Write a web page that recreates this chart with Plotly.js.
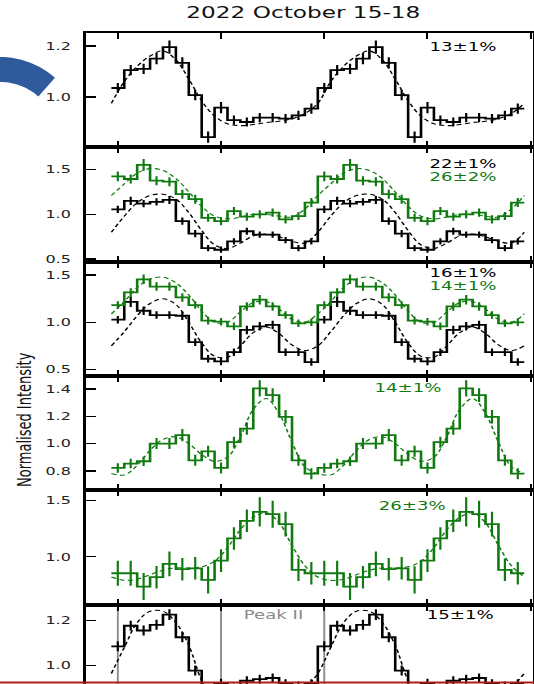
<!DOCTYPE html>
<html>
<head>
<meta charset="utf-8">
<script src="https://cdn.plot.ly/plotly-3.0.1.min.js"></script>
<style>
  html, body { margin: 0; padding: 0; overflow: hidden; background: #fff; width: 534px; height: 684px; }
  #chart { width: 368px; height: 724px; transform: scaleX(1.4511); transform-origin: 0 0; }
</style>
</head>
<body>
<div id="chart"></div>
<script>
// Phase-folded light curves, one rotation per array (shown twice).
const phaseBins = [0, 0.0625, 0.125, 0.1875, 0.25, 0.3125, 0.375, 0.4375,
                   0.5, 0.5625, 0.625, 0.6875, 0.75, 0.8125, 0.875, 0.9375];
const fitPhases = [-0.03125, 0.03125, 0.09375, 0.15625, 0.21875, 0.28125, 0.34375, 0.40625,
                   0.46875, 0.53125, 0.59375, 0.65625, 0.71875, 0.78125, 0.84375, 0.90625];
const xTicks = [0, 0.5, 1, 1.5, 2];

// Panel 1
const p1Black    = [1.035, 1.105, 1.11, 1.15, 1.195, 1.133, 1.007, 0.843, 0.958, 0.909, 0.902, 0.919, 0.919, 0.915, 0.928, 0.954];
const p1BlackErr = [0.02, 0.02, 0.02, 0.022, 0.026, 0.022, 0.02, 0.022, 0.022, 0.018, 0.018, 0.018, 0.018, 0.018, 0.018, 0.02];
const p1BlackFit = [0.975, 1.06, 1.12, 1.16, 1.18, 1.145, 1.07, 0.985, 0.925, 0.895, 0.888, 0.892, 0.90, 0.905, 0.915, 0.935];
// Panel 2
const p2Black    = [1.056, 1.15, 1.12, 1.139, 1.161, 0.924, 0.786, 0.624, 0.606, 0.70, 0.812, 0.775, 0.775, 0.712, 0.624, 0.70];
const p2BlackErr = [0.04, 0.045, 0.04, 0.04, 0.045, 0.04, 0.04, 0.035, 0.035, 0.035, 0.04, 0.035, 0.035, 0.035, 0.035, 0.035];
const p2BlackFit = [0.80, 0.98, 1.13, 1.21, 1.225, 1.17, 1.02, 0.82, 0.66, 0.62, 0.68, 0.76, 0.78, 0.75, 0.70, 0.68];
const p2Green    = [1.424, 1.394, 1.552, 1.375, 1.364, 1.225, 1.169, 0.962, 0.924, 1.037, 0.974, 1.0, 1.019, 0.944, 0.981, 1.131];
const p2GreenErr = [0.055, 0.05, 0.065, 0.05, 0.05, 0.05, 0.05, 0.045, 0.045, 0.045, 0.045, 0.045, 0.045, 0.045, 0.045, 0.05];
const p2GreenFit = [1.21, 1.34, 1.46, 1.51, 1.49, 1.40, 1.25, 1.09, 0.98, 0.95, 0.97, 1.00, 1.00, 0.98, 0.97, 1.06];
// Panel 3
const p3Black    = [1.028, 1.218, 1.123, 1.077, 1.077, 1.07, 0.789, 0.613, 0.585, 0.683, 0.919, 0.958, 0.972, 0.683, 0.683, 0.578];
const p3BlackErr = [0.04, 0.055, 0.045, 0.04, 0.04, 0.045, 0.04, 0.04, 0.04, 0.04, 0.045, 0.045, 0.045, 0.04, 0.04, 0.04];
const p3BlackFit = [0.75, 0.90, 1.07, 1.20, 1.25, 1.19, 1.00, 0.78, 0.64, 0.63, 0.75, 0.89, 0.95, 0.88, 0.76, 0.70];
const p3Green    = [1.183, 1.317, 1.457, 1.38, 1.38, 1.264, 1.183, 1.018, 1.007, 0.958, 1.169, 1.24, 1.169, 1.077, 0.989, 1.0];
const p3GreenErr = [0.04, 0.045, 0.05, 0.045, 0.045, 0.045, 0.04, 0.04, 0.04, 0.04, 0.045, 0.05, 0.045, 0.04, 0.04, 0.04];
const p3GreenFit = [1.09, 1.22, 1.37, 1.46, 1.48, 1.42, 1.29, 1.12, 1.00, 1.00, 1.11, 1.21, 1.22, 1.14, 1.03, 1.00];
// Panel 4
const p4Green    = [0.821, 0.853, 0.870, 1.0, 1.0, 1.061, 0.877, 0.943, 0.821, 1.01, 1.11, 1.404, 1.355, 1.196, 0.877, 0.779];
const p4GreenErr = [0.035, 0.035, 0.035, 0.04, 0.04, 0.045, 0.04, 0.04, 0.04, 0.04, 0.045, 0.06, 0.05, 0.05, 0.04, 0.04];
const p4GreenFit = [0.78, 0.77, 0.84, 0.95, 1.03, 1.05, 1.00, 0.92, 0.87, 0.90, 1.05, 1.25, 1.33, 1.22, 1.01, 0.83];
// Panel 5
const p5Green    = [0.853, 0.853, 0.735, 0.818, 0.936, 0.889, 0.897, 0.794, 0.965, 1.162, 1.318, 1.397, 1.377, 1.289, 0.883, 0.853];
const p5GreenErr = [0.11, 0.11, 0.12, 0.10, 0.11, 0.10, 0.10, 0.12, 0.10, 0.10, 0.10, 0.13, 0.12, 0.11, 0.10, 0.10];
const p5GreenFit = [0.82, 0.79, 0.80, 0.84, 0.88, 0.90, 0.90, 0.91, 0.96, 1.08, 1.24, 1.35, 1.39, 1.30, 1.10, 0.92];
// Panel 6
const p6Black    = [1.085, 1.176, 1.155, 1.18, 1.225, 1.125, 0.978, 0.86, 0.92, 0.90, 0.933, 0.94, 0.945, 0.92, 0.91, 0.92];
const p6BlackErr = [0.022, 0.022, 0.022, 0.022, 0.024, 0.022, 0.022, 0.022, 0.022, 0.02, 0.02, 0.02, 0.02, 0.02, 0.02, 0.02];
const p6BlackFit = [0.965, 1.08, 1.19, 1.24, 1.24, 1.19, 1.09, 0.935, 0.85, 0.83, 0.84, 0.86, 0.87, 0.86, 0.85, 0.90];
const peakLines  = [0, 0.5, 1.0];

const BLACK = '#000000';
const GREEN = '#107a10';
const FONT = 'DejaVu Sans, Verdana, sans-serif';

// Figure geometry (unstretched CSS px; the container is stretched horizontally)
const S = 1.4511, W0 = 368, H = 724;
const ML = 59, MR = 1.4, MT = 33, MB = 4.6;
const PW = W0 - ML - MR, PH = H - MT - MB;
const toPaper = (X, Y) => [(X / S - ML) / PW, 1 - (Y - MT) / PH];

const cycles = [0, 1];
const twoCycles = ph => cycles.flatMap(c => ph.map(p => p + c));
const repeat = v => cycles.flatMap(() => v);

const traces = [];
function addSeries(panel, vals, errs, fit, color) {
  const xa = panel === 1 ? 'x' : 'x' + panel;
  const ya = panel === 1 ? 'y' : 'y' + panel;
  const centers = twoCycles(phaseBins);
  const yv = repeat(vals);
  const w = phaseBins[1] - phaseBins[0];
  const edges = centers.map(c => c - w / 2).concat([centers[centers.length - 1] + w / 2]);
  traces.push({
    x: edges, y: yv.concat([yv[yv.length - 1]]), xaxis: xa, yaxis: ya,
    type: 'scatter', mode: 'lines', line: {shape: 'hv', color: color, width: 1.8},
    hoverinfo: 'skip', showlegend: false
  });
  traces.push({
    x: centers, y: yv, xaxis: xa, yaxis: ya, type: 'scatter', mode: 'markers',
    marker: {size: 1, color: 'rgba(0,0,0,0)'},
    error_y: {type: 'data', array: repeat(errs), visible: true, width: 0, thickness: 1.5, color: color},
    hoverinfo: 'skip', showlegend: false
  });
  const fx = twoCycles(fitPhases).concat([fitPhases[0] + 2]);
  const fy = repeat(fit).concat([fit[0]]);
  traces.push({
    x: fx, y: fy, xaxis: xa, yaxis: ya, type: 'scatter', mode: 'lines',
    line: {shape: 'spline', smoothing: 1, color: color, width: 1.1, dash: '3.5px,2.5px'},
    hoverinfo: 'skip', showlegend: false
  });
}

addSeries(1, p1Black, p1BlackErr, p1BlackFit, BLACK);
addSeries(2, p2Black, p2BlackErr, p2BlackFit, BLACK);
addSeries(2, p2Green, p2GreenErr, p2GreenFit, GREEN);
addSeries(3, p3Black, p3BlackErr, p3BlackFit, BLACK);
addSeries(3, p3Green, p3GreenErr, p3GreenFit, GREEN);
addSeries(4, p4Green, p4GreenErr, p4GreenFit, GREEN);
addSeries(5, p5Green, p5GreenErr, p5GreenFit, GREEN);
addSeries(6, p6Black, p6BlackErr, p6BlackFit, BLACK);

const yRanges = [[0.803, 1.25], [0.473, 1.747], [0.43, 1.644], [0.657, 1.495], [0.574, 1.589], [0.764, 1.269]];
const yTicks = [[1.0, 1.2], [0.5, 1.0, 1.5], [0.5, 1.0, 1.5], [0.8, 1.0, 1.2, 1.4], [1.0, 1.5], [1.0, 1.2]];

const layout = {
  width: W0, height: H,
  margin: {l: ML, r: MR, t: MT, b: MB, pad: 0},
  paper_bgcolor: '#fff', plot_bgcolor: '#fff',
  showlegend: false,
  font: {family: FONT, color: '#111'},
  title: {
    text: '2022 October 15-18', font: {family: FONT, size: 16, color: '#111'},
    xref: 'container', yref: 'container', x: 209 / W0, y: 1 - 12 / H,
    xanchor: 'center', yanchor: 'middle'
  },
  annotations: [],
  shapes: []
};

for (let k = 1; k <= 6; k++) {
  const sx = k === 1 ? '' : String(k);
  layout['xaxis' + sx] = {
    domain: [0, 1], anchor: 'y' + sx, range: [-0.156, 2.009],
    matches: k === 1 ? undefined : 'x',
    tickmode: 'array', tickvals: xTicks, showticklabels: false,
    ticks: 'inside', ticklen: 6, tickwidth: 1.4, tickcolor: BLACK,
    showline: true, linecolor: BLACK, linewidth: 2, mirror: 'ticks',
    showgrid: false, zeroline: false
  };
  layout['yaxis' + sx] = {
    domain: [1 - k / 6, 1 - (k - 1) / 6], anchor: 'x' + sx, range: yRanges[k - 1],
    tickmode: 'array', tickvals: yTicks[k - 1], ticktext: yTicks[k - 1].map(v => v.toFixed(1)),
    ticks: 'inside', ticklen: 7, tickwidth: 1.5, tickcolor: BLACK,
    ticklabelstandoff: 6,
    tickfont: {family: FONT, size: 11, color: '#222'},
    showline: true, linecolor: BLACK, linewidth: 2, mirror: true,
    showgrid: false, zeroline: false
  };
}

// Percentage labels
const notes = [
  [1, '13±1%', 1.675, 0.886, BLACK],
  [2, '22±1%', 1.67, 0.855, BLACK],
  [2, '26±2%', 1.67, 0.741, GREEN],
  [3, '16±1%', 1.67, 0.902, BLACK],
  [3, '14±1%', 1.67, 0.795, GREEN],
  [4, '14±1%', 1.403, 0.897, GREEN],
  [5, '26±3%', 1.427, 0.865, GREEN],
  [6, '15±1%', 1.66, 0.913, BLACK],
  [6, 'Peak II', 0.751, 0.91, '#8a8a8a']
];
notes.forEach(([p, txt, x, y, c]) => {
  const sx = p === 1 ? '' : String(p);
  layout.annotations.push({
    text: txt, xref: 'x' + sx, yref: 'y' + sx + ' domain', x: x, y: y,
    xanchor: 'center', yanchor: 'middle', showarrow: false,
    font: {family: FONT, size: 12.5, color: c}
  });
});

// Y-axis title
const yl = toPaper(25, 420);
layout.annotations.push({
  text: 'Normalised Intensity', xref: 'paper', yref: 'paper', x: yl[0], y: yl[1],
  textangle: -90, showarrow: false, xanchor: 'center', yanchor: 'middle',
  font: {family: FONT, size: 13, color: '#111'}
});

// Phase markers in the lowest panel
peakLines.forEach(ph => {
  layout.shapes.push({
    type: 'line', xref: 'x6', yref: 'y6 domain', x0: ph, x1: ph, y0: 0, y1: 1,
    line: {color: '#8c8c8c', width: 1.3}, layer: 'below'
  });
});

// Blue arc band at the top-left corner
const arc = {cx: 0, cy: 140, rOut: 83, rIn: 58, a0: -115, a1: -48.5};
const pts = [];
for (let i = 0; i <= 40; i++) {
  const a = (arc.a0 + (arc.a1 - arc.a0) * i / 40) * Math.PI / 180;
  pts.push(toPaper(arc.cx + arc.rOut * Math.cos(a), arc.cy + arc.rOut * Math.sin(a)));
}
for (let i = 40; i >= 0; i--) {
  const a = (arc.a0 + (arc.a1 - arc.a0) * i / 40) * Math.PI / 180;
  pts.push(toPaper(arc.cx + arc.rIn * Math.cos(a), arc.cy + arc.rIn * Math.sin(a)));
}
layout.shapes.push({
  type: 'path', xref: 'paper', yref: 'paper',
  path: 'M ' + pts.map(p => p[0].toFixed(5) + ',' + p[1].toFixed(5)).join(' L ') + ' Z',
  fillcolor: '#2f5a9c', line: {width: 0}, layer: 'above'
});

// Thin red rule along the bottom edge
const r0 = toPaper(0, 683), r1 = toPaper(534, 683);
layout.shapes.push({
  type: 'line', xref: 'paper', yref: 'paper', x0: r0[0], x1: r1[0], y0: r0[1], y1: r1[1],
  line: {color: '#a8201f', width: 2}, layer: 'above'
});

Plotly.newPlot('chart', traces, layout, {displayModeBar: false, staticPlot: true});
</script>
</body>
</html>
